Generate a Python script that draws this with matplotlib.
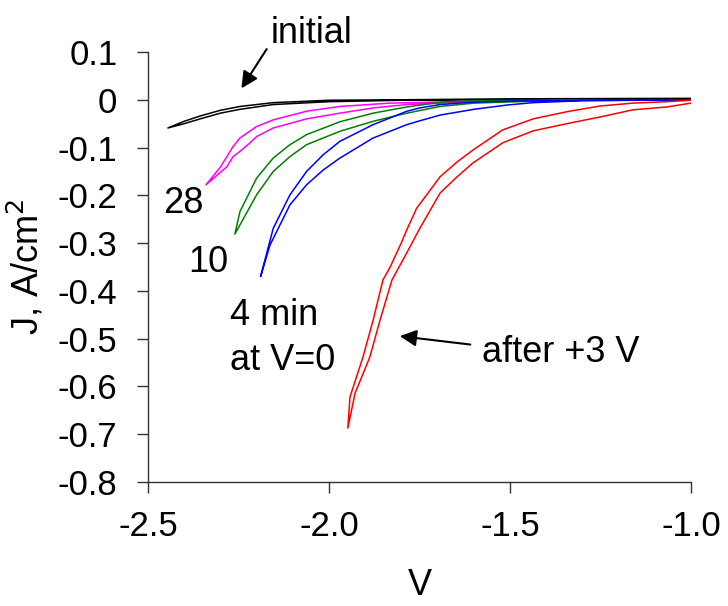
import matplotlib
matplotlib.use('Agg')
import matplotlib.pyplot as plt

plt.rcParams['font.family'] = ['Liberation Sans', 'DejaVu Sans']

# J-V sweeps (V, A/cm2): outer branch from -1.0 V to the tip, then inner branch back
v_initial = [-1.0, -1.5, -1.8, -2.0, -2.154, -2.246, -2.30, -2.356, -2.40, -2.445,
             -2.40, -2.356, -2.30, -2.246, -2.154, -2.0, -1.8, -1.5, -1.0]
j_initial = [0.003, 0.002, 0.0, -0.001, -0.006, -0.014, -0.022, -0.034, -0.045, -0.059,
             -0.050, -0.040, -0.028, -0.020, -0.010, -0.004, -0.001, 0.0, 0.001]

v_28 = [-1.0, -1.3, -1.6, -1.831, -1.970, -2.062, -2.154, -2.200, -2.246, -2.265, -2.301, -2.34,
        -2.282, -2.265, -2.246, -2.218, -2.200, -2.154, -2.062, -1.970, -1.878, -1.785, -1.6, -1.3, -1.0]
j_28 = [0.0, -0.001, -0.003, -0.007, -0.014, -0.024, -0.042, -0.056, -0.080, -0.098, -0.142, -0.178,
        -0.140, -0.119, -0.108, -0.090, -0.077, -0.059, -0.040, -0.028, -0.017, -0.010, -0.004, -0.001, 0.0]

v_10 = [-1.0, -1.4, -1.6, -1.69, -1.785, -1.878, -1.970, -2.062, -2.108, -2.154, -2.200, -2.246, -2.26,
        -2.246, -2.200, -2.154, -2.108, -2.062, -1.970, -1.878, -1.785, -1.693, -1.6, -1.4, -1.0]
j_10 = [0.0, -0.001, -0.002, -0.005, -0.015, -0.028, -0.046, -0.073, -0.094, -0.122, -0.164, -0.234, -0.281,
        -0.262, -0.199, -0.150, -0.119, -0.094, -0.066, -0.045, -0.028, -0.014, -0.007, -0.002, 0.0]

v_4 = [-1.0, -1.3, -1.508, -1.6, -1.693, -1.749, -1.785, -1.878, -1.970, -2.016, -2.062, -2.108, -2.154, -2.189,
       -2.163, -2.108, -2.062, -2.016, -1.970, -1.878, -1.785, -1.749, -1.693, -1.6, -1.508, -1.436, -1.3, -1.0]
j_4 = [0.0, -0.001, -0.003, -0.005, -0.010, -0.017, -0.024, -0.052, -0.087, -0.115, -0.150, -0.199, -0.269, -0.370,
       -0.304, -0.220, -0.178, -0.147, -0.122, -0.080, -0.052, -0.044, -0.032, -0.020, -0.011, -0.006, -0.002, 0.0]

v_3v = [-1.0, -1.066, -1.16, -1.251, -1.343, -1.436, -1.52, -1.602, -1.646, -1.693, -1.740, -1.758, -1.785,
        -1.80, -1.831, -1.851, -1.878, -1.906, -1.942, -1.948,
        -1.928, -1.887, -1.859, -1.826, -1.80, -1.785, -1.749, -1.693, -1.646, -1.602, -1.52, -1.436,
        -1.343, -1.251, -1.16, -1.066, -1.0]
j_3v = [-0.001, -0.004, -0.007, -0.013, -0.025, -0.040, -0.063, -0.105, -0.130, -0.161, -0.209, -0.227, -0.272,
        -0.299, -0.350, -0.377, -0.461, -0.538, -0.622, -0.687,
        -0.614, -0.538, -0.461, -0.377, -0.341, -0.320, -0.269, -0.195, -0.161, -0.132, -0.090, -0.065,
        -0.050, -0.036, -0.021, -0.015, -0.007]

fig = plt.figure(figsize=(7.28, 6.06), dpi=100)
ax = fig.add_axes([0.2033, 0.2046, 0.7459, 0.7096])

lw = 1.1
ax.plot(v_initial, j_initial, color='black', lw=lw)
ax.plot(v_28, j_28, color='#FF00FF', lw=lw)
ax.plot(v_10, j_10, color='#008000', lw=lw)
ax.plot(v_4, j_4, color='#0000FF', lw=lw)
ax.plot(v_3v, j_3v, color='#FF0000', lw=lw)

ax.set_xlim(-2.5, -1.0)
ax.set_ylim(-0.8, 0.1)
ax.set_xticks([-2.5, -2.0, -1.5, -1.0])
ax.set_xticklabels(['-2.5', '-2.0', '-1.5', '-1.0'])
ax.set_yticks([0.1, 0.0, -0.1, -0.2, -0.3, -0.4, -0.5, -0.6, -0.7, -0.8])
ax.set_yticklabels(['0.1', '0', '-0.1', '-0.2', '-0.3', '-0.4', '-0.5', '-0.6', '-0.7', '-0.8'])

for s in ['top', 'right']:
    ax.spines[s].set_visible(False)
for s in ['left', 'bottom']:
    ax.spines[s].set_color('#333333')
    ax.spines[s].set_linewidth(1.0)
ax.tick_params(axis='both', direction='out', length=8, width=1.0, color='#333333', labelsize=25)
ax.tick_params(axis='y', pad=14)
ax.tick_params(axis='x', pad=12)

ax.set_xlabel('V', fontsize=26, labelpad=18)
ax.set_ylabel('J, A/cm$^2$', fontsize=26, labelpad=8)

fs = 26
ax.text(-2.047, 0.119, 'initial', fontsize=fs, ha='center', va='baseline', clip_on=False)
ax.annotate('', xy=(-2.246, 0.019), xytext=(-2.168, 0.111),
            arrowprops=dict(arrowstyle='-|>', color='black', lw=1.5, mutation_scale=25))
ax.text(-2.403, -0.237, '28', fontsize=fs, ha='center', va='baseline')
ax.text(-2.334, -0.360, '10', fontsize=fs, ha='center', va='baseline')
ax.text(-2.273, -0.471, '4 min', fontsize=fs, ha='left', va='baseline')
ax.text(-2.273, -0.565, 'at V=0', fontsize=fs, ha='left', va='baseline')
ax.text(-1.577, -0.548, 'after +3 V', fontsize=fs, ha='left', va='baseline')
ax.annotate('', xy=(-1.812, -0.494), xytext=(-1.602, -0.513),
            arrowprops=dict(arrowstyle='-|>', color='black', lw=1.5, mutation_scale=25))

fig.savefig('out.png', dpi=100)
